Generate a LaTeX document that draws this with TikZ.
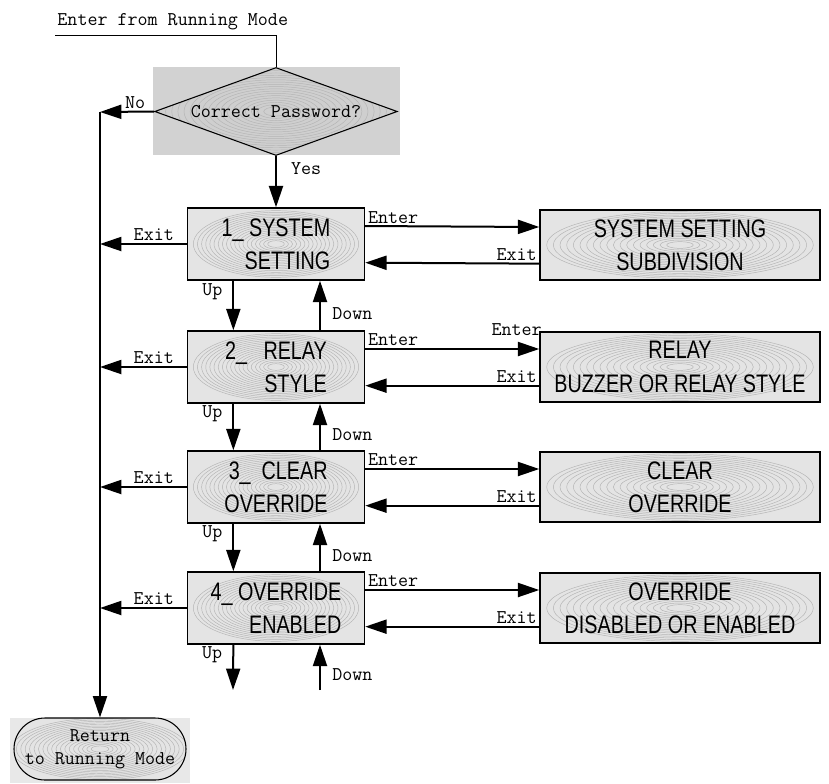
\documentclass[tikz,border=0pt]{standalone}
\usepackage{fontspec}
\usetikzlibrary{arrows.meta,shapes.geometric,shapes.misc}
\newfontfamily\boxfont[FakeStretch=0.78]{Liberation Sans}
\definecolor{boxgrey}{HTML}{E4E4E4}
\definecolor{ringgrey}{HTML}{B4B4B4}
\definecolor{backgrey}{HTML}{D2D2D2}
\tikzset{
  rings/.style 2 args={path picture={
      \foreach \r in {0.1,0.15,...,1.0}
        \draw[ringgrey,line width=0.35pt] (path picture bounding box.center)
          ellipse [x radius=\r*#1, y radius=\r*#2];}},
  menubox/.style={draw,line width=1.1pt,fill=boxgrey,rings={62pt}{25pt},
      minimum width=132.75pt,minimum height=54pt,inner sep=0pt,align=right,
      font=\boxfont\fontsize{19}{25}\selectfont},
  subbox/.style={draw,line width=1.1pt,fill=boxgrey,rings={100pt}{25pt},
      minimum width=210pt,minimum height=52.5pt,inner sep=0pt,align=center,
      font=\boxfont\fontsize{19}{25}\selectfont},
  lbl/.style={font=\ttfamily\fontsize{14.6}{17}\selectfont,inner sep=1.5pt},
  flow/.style={line width=1.5pt,-{Triangle[length=16pt,width=10.5pt]}}
}
\begin{document}
\begin{tikzpicture}[x=0.75pt,y=-0.75pt]
\useasboundingbox (0,0) rectangle (829,783);
% password check
\fill[backgrey] (153,67) rectangle (400,155);
\node (pw) [diamond,aspect=2.76,draw,line width=0.8pt,fill=gray!38,rings={92pt}{34pt},
   minimum width=182pt,minimum height=66pt,inner sep=0pt,
   lbl] at (276,111.5) {Correct Password?};
\coordinate (entry) at (55,35);
\coordinate (spine) at (100,112);
\draw[line width=0.7pt] (entry) node[lbl,above right,yshift=2pt] {Enter from Running Mode} -| (pw.north);

% menu items
\node (s1) [menubox] at (276,244) {1\_ SYSTEM\\SETTING};
\node (s2) [menubox] at (276,367) {2\_\ \ \ RELAY\\STYLE};
\node (s3) [menubox] at (276,487) {3\_\ \ CLEAR\\OVERRIDE};
\node (s4) [menubox] at (276,608) {4\_ OVERRIDE\\ENABLED};

% sub menus
\node (r1) [subbox] at (680,245) {SYSTEM SETTING\\SUBDIVISION};
\node (r2) [subbox] at (680,367) {RELAY\\BUZZER OR RELAY STYLE};
\node (r3) [subbox] at (680,487) {CLEAR\\OVERRIDE};
\node (r4) [subbox] at (680,608) {OVERRIDE\\DISABLED OR ENABLED};

% return
\fill[gray!18] (10,718) rectangle (190,783);
\node (ret) [rounded rectangle,draw,line width=0.8pt,fill=boxgrey,rings={66pt}{23pt},
   minimum width=132pt,minimum height=46.5pt,inner sep=0pt,align=center,
   lbl] at (100,749) {Return\\to Running Mode};

\draw[flow] (pw.west) -- (spine) node[lbl,above,pos=0.35] {No};
\draw[flow] (spine) -- (ret.north);
\draw[flow] (pw.south) -- (s1.north) node[lbl,right,pos=0.25,xshift=9pt] {Yes};

\foreach \i in {1,2,3,4} {
  \draw[flow] (s\i.west) -- (s\i.west -| spine) node[lbl,above,pos=0.38] {Exit};
  \draw[flow] ([yshift=13.5pt]s\i.east) -- ([yshift=13.5pt]r\i.west)
     node[lbl,above,pos=0.16] {Enter};
  \draw[flow] ([yshift=-14pt]r\i.west) -- ([yshift=-14pt]s\i.east)
     node[lbl,above,pos=0.13] {Exit};
}
\path ([yshift=13.5pt]s2.east) -- ([yshift=13.5pt]r2.west)
   node[lbl,above=8pt,pos=0.87] {Enter};

\foreach \i/\j in {1/2,2/3,3/4} {
  \draw[flow] ([xshift=-32pt]s\i.south) -- ([xshift=-32pt]s\j.north)
     node[lbl,left,pos=0.22,xshift=-6pt] {Up};
  \draw[flow] ([xshift=33pt]s\j.north) -- ([xshift=33pt]s\i.south)
     node[lbl,right,pos=0.33,xshift=7pt] {Down};
}
\coordinate (upend) at (233,690);
\coordinate (downstart) at (320,690);
\draw[flow] ([xshift=-32pt]s4.south) -- (upend) node[lbl,left,pos=0.22,xshift=-6pt] {Up};
\draw[flow] (downstart) -- ([xshift=33pt]s4.south) node[lbl,right,pos=0.35,xshift=7pt] {Down};
\end{tikzpicture}
\end{document}
